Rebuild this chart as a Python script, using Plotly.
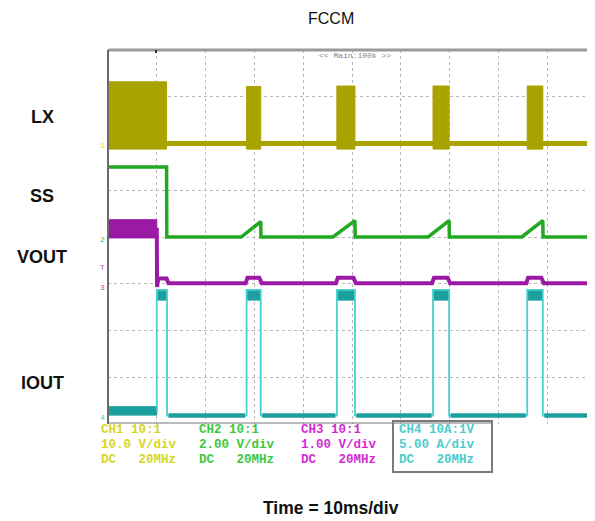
import plotly.graph_objects as go

# ---------------- data (time in ms, 10 ms/div; level in divisions) ----------------
burst_start_ms = [0.0, 28.4, 46.9, 66.6, 85.9]
burst_end_ms = [12.0, 31.3, 50.6, 69.9, 89.1]

lx_idle_div = 6.0
lx_burst_top_div = [7.32, 7.22, 7.23, 7.23, 7.23]
lx_burst_bottom_div = 5.88

ss_time_ms = [0.0, 12.0, 12.05, 27.3, 31.3, 31.35, 46.1, 50.6, 50.65, 65.6, 69.9, 69.95, 84.8, 89.1, 89.15, 100.0]
ss_div = [5.5, 5.5, 4.0, 4.0, 4.33, 4.0, 4.0, 4.35, 4.0, 4.0, 4.35, 4.0, 4.0, 4.35, 4.0, 4.0]

vout_soft_band_ms = [0.0, 10.0]
vout_soft_band_div = [3.98, 4.37]
vout_time_ms = [10.0, 10.05, 10.3, 12.0, 12.4, 28.2, 28.6, 31.0, 31.5, 46.7, 47.1, 50.3, 50.8,
                66.4, 66.8, 69.6, 70.1, 85.7, 86.1, 88.8, 89.3, 100.0]
vout_div = [4.2, 2.93, 3.11, 3.11, 3.01, 3.01, 3.13, 3.13, 3.01, 3.01, 3.13, 3.13, 3.01,
            3.01, 3.13, 3.13, 3.01, 3.01, 3.13, 3.13, 3.01, 3.01]

iout_start_band_div = [0.19, 0.37]
iout_pulse_start_ms = [10.0, 28.4, 46.9, 66.6, 85.9]
iout_pulse_end_ms = [12.1, 31.3, 50.6, 69.9, 89.1]
iout_high_div = 2.87
iout_high_band_div = 2.65
iout_low_div = 0.18

channel_labels = ["LX", "SS", "VOUT", "IOUT"]
channel_label_div = [6.57, 4.88, 3.57, 0.88]

scope_info = [
    ["CH1 10:1", "10.0 V/div", "DC   20MHz"],
    ["CH2 10:1", "2.00 V/div", "DC   20MHz"],
    ["CH3 10:1", "1.00 V/div", "DC   20MHz"],
    ["CH4 10A:1V", "5.00 A/div", "DC   20MHz"],
]
info_colors = ["#d6d61e", "#3cc83c", "#d42ad4", "#4ccccc"]

LX_C = "#a9a300"
SS_C = "#22a822"
VO_C = "#9a1aa6"
IO_C = "#1e9f9f"
IO_EDGE = "#49cfcf"

fig = go.Figure()

# ---- LX ----
fig.add_trace(go.Scatter(x=[burst_end_ms[0], 100.0], y=[lx_idle_div, lx_idle_div], mode="lines",
                         line=dict(color=LX_C, width=5), hoverinfo="skip"))
for s, e, top in zip(burst_start_ms, burst_end_ms, lx_burst_top_div):
    fig.add_trace(go.Scatter(x=[s, s, e, e, s], y=[lx_burst_bottom_div, top, top, lx_burst_bottom_div, lx_burst_bottom_div],
                             mode="lines", fill="toself", fillcolor=LX_C, line=dict(color=LX_C, width=1),
                             hoverinfo="skip"))

# ---- SS ----
fig.add_trace(go.Scatter(x=ss_time_ms, y=ss_div, mode="lines", line=dict(color=SS_C, width=3.5),
                         hoverinfo="skip"))

# ---- VOUT ----
fig.add_trace(go.Scatter(x=[vout_soft_band_ms[0], vout_soft_band_ms[0], vout_soft_band_ms[1], vout_soft_band_ms[1], vout_soft_band_ms[0]],
                         y=[vout_soft_band_div[0], vout_soft_band_div[1], vout_soft_band_div[1], vout_soft_band_div[0], vout_soft_band_div[0]],
                         mode="lines", fill="toself", fillcolor=VO_C, line=dict(color=VO_C, width=1), hoverinfo="skip"))
fig.add_trace(go.Scatter(x=vout_time_ms, y=vout_div, mode="lines", line=dict(color=VO_C, width=4),
                         hoverinfo="skip"))

# ---- IOUT ----
fig.add_trace(go.Scatter(x=[0, 0, iout_pulse_start_ms[0], iout_pulse_start_ms[0], 0],
                         y=[iout_start_band_div[0], iout_start_band_div[1], iout_start_band_div[1], iout_start_band_div[0], iout_start_band_div[0]],
                         mode="lines", fill="toself", fillcolor=IO_C, line=dict(color=IO_C, width=1), hoverinfo="skip"))
edge_x, edge_y = [], []
low_x, low_y = [], []
for i, (s, e) in enumerate(zip(iout_pulse_start_ms, iout_pulse_end_ms)):
    start_level = (iout_start_band_div[0] + iout_start_band_div[1]) / 2 if i == 0 else iout_low_div
    edge_x += [s, s, e, e]
    edge_y += [start_level, iout_high_div, iout_high_div, iout_low_div]
    nxt = iout_pulse_start_ms[i + 1] if i + 1 < len(iout_pulse_start_ms) else 100.0
    low_x += [e + 0.3, nxt - 0.3, None]
    low_y += [iout_low_div, iout_low_div, None]
    fig.add_trace(go.Scatter(x=[s + 0.2, s + 0.2, e - 0.1, e - 0.1, s + 0.2],
                             y=[iout_high_band_div, iout_high_div, iout_high_div, iout_high_band_div, iout_high_band_div],
                             mode="lines", fill="toself", fillcolor=IO_C, line=dict(color=IO_C, width=1),
                             hoverinfo="skip"))
edge_x += [100.0]
edge_y += [iout_low_div]
fig.add_trace(go.Scatter(x=edge_x, y=edge_y, mode="lines", line=dict(color=IO_EDGE, width=1.8), hoverinfo="skip"))
fig.add_trace(go.Scatter(x=low_x, y=low_y, mode="lines", line=dict(color=IO_C, width=4.5), hoverinfo="skip",
                         connectgaps=False))

# ---------------- layout ----------------
OFF = 8  # page body margin of the html page
L, T, W, H = 108, 50, 595, 521
PW = W - L            # visible plot width (px)
PH = 374              # plot height (px)
FW, FH = W - OFF, H - OFF
ML, MT = L - OFF, T - OFF
MB = FH - MT - PH

def px(xp):
    return (xp - L) / PW

def py(yp):
    return (T + PH - yp) / PH

anns = []
anns.append(dict(text="FCCM", x=px(331), y=py(18), xref="paper", yref="paper", showarrow=False,
                 xanchor="center", yanchor="middle",
                 font=dict(family="Arial, Liberation Sans", size=16, color="#111")))
anns.append(dict(text="<b>Time = 10ms/div</b>", x=px(331), y=py(508), xref="paper", yref="paper", showarrow=False,
                 xanchor="center", yanchor="middle",
                 font=dict(family="Arial, Liberation Sans", size=17.5, color="#111")))
for lab, lv in zip(channel_labels, channel_label_div):
    anns.append(dict(text="<b>%s</b>" % lab, x=px(42), y=lv, xref="paper", yref="y", showarrow=False,
                     xanchor="center", yanchor="middle",
                     font=dict(family="Arial, Liberation Sans", size=18, color="#111")))
anns.append(dict(text="<< Main:100k >>", x=px(355), y=py(55), xref="paper", yref="paper", showarrow=False,
                 xanchor="center", yanchor="middle",
                 font=dict(family="Liberation Mono, DejaVu Sans Mono", size=8, color="#888")))

col_x = [99, 197, 299, 397]
row_y = [430, 445, 460]
for cx, lines, col in zip(col_x, scope_info, info_colors):
    for ry, txt in zip(row_y, lines):
        anns.append(dict(text="<b>%s</b>" % txt.replace(" ", "&nbsp;"), x=px(cx), y=py(ry), xref="paper", yref="paper",
                         xanchor="left", yanchor="middle", showarrow=False,
                         font=dict(family="Liberation Mono, DejaVu Sans Mono", size=12.5, color=col)))

# ground markers at left
markers = [("1", lx_idle_div - 0.05, "#d8d840"), ("2", 3.95, "#44cc44"), ("T", 3.34, "#cc44cc"),
           ("3", 2.93, "#cc44cc"), ("4", 0.14, "#44cccc")]
for t, lv, c in markers:
    anns.append(dict(text=t, x=px(102), y=lv, xref="paper", yref="y", showarrow=False,
                     xanchor="center", yanchor="middle",
                     font=dict(family="Liberation Mono", size=8, color=c)))

shapes = [
    dict(type="line", xref="paper", yref="paper", x0=0, x1=1, y0=1, y1=1, line=dict(color="#9a9a9a", width=3)),
    dict(type="line", xref="paper", yref="paper", x0=0, x1=0, y0=0, y1=1, line=dict(color="#6a6a6a", width=2)),
    dict(type="line", xref="paper", yref="paper", x0=0, x1=px(493), y0=py(423), y1=py(423), line=dict(color="#777", width=1)),
    dict(type="rect", xref="paper", yref="paper", x0=px(393), x1=px(492), y0=py(472), y1=py(421),
         line=dict(color="#7a7a7a", width=2)),
    dict(type="line", xref="paper", yref="paper", x0=px(156), x1=px(156), y0=1, y1=py(53), line=dict(color="#333", width=2)),
]

fig.update_layout(
    width=FW, height=FH, margin=dict(l=ML, r=0, t=MT, b=MB, pad=0),
    plot_bgcolor="white", paper_bgcolor="white", showlegend=False,
    xaxis=dict(range=[0, 100 * PW / 488], dtick=10, tick0=0, showgrid=True, gridcolor="#b8b8b8", griddash="dot",
               gridwidth=1, zeroline=False, showticklabels=False, ticks="", showline=False, fixedrange=True),
    yaxis=dict(range=[0, 8], dtick=1, tick0=0, showgrid=True, gridcolor="#b8b8b8", griddash="dot",
               gridwidth=1, zeroline=False, showticklabels=False, ticks="", showline=False, fixedrange=True),
    annotations=anns, shapes=shapes,
)
fig.write_html("out.html")
